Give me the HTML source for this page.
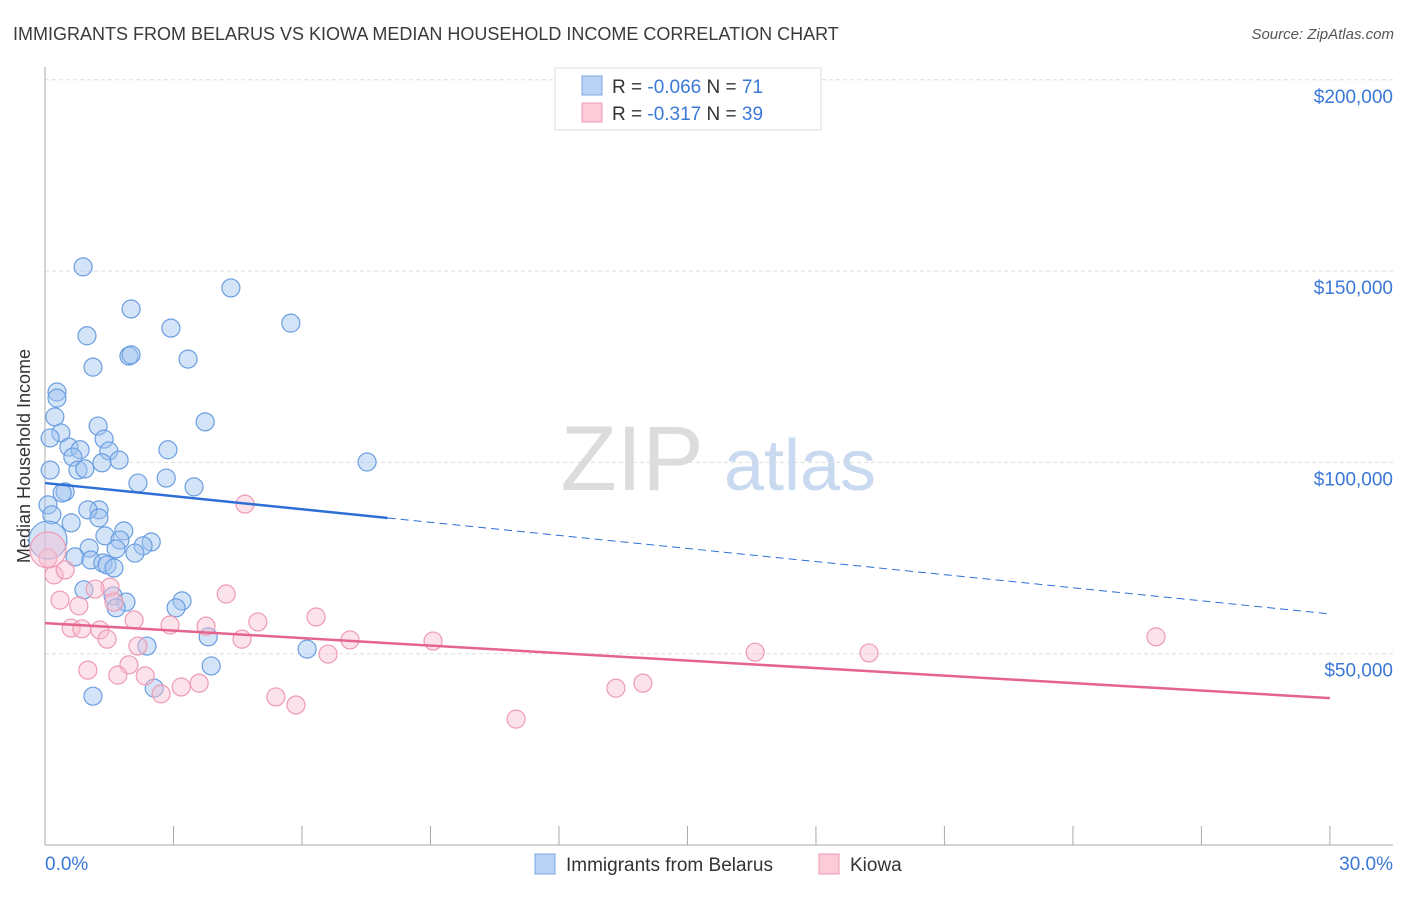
<!DOCTYPE html>
<html><head><meta charset="utf-8">
<style>
body{margin:0;background:#fff;font-family:"Liberation Sans",sans-serif;}
svg text{font-family:"Liberation Sans",sans-serif;}
</style></head>
<body>
<svg id="chart" width="1406" height="892" xmlns="http://www.w3.org/2000/svg">
<text x="13" y="40" font-size="18" fill="#3a3a3a">IMMIGRANTS FROM BELARUS VS KIOWA MEDIAN HOUSEHOLD INCOME CORRELATION CHART</text>
<text x="1394" y="39" font-size="15" fill="#555" font-style="italic" text-anchor="end">Source: ZipAtlas.com</text>
<text x="30" y="456" font-size="18" fill="#333" text-anchor="middle" transform="rotate(-90 30 456)">Median Household Income</text>
<g>
<text x="632" y="490" font-size="92" fill="#dcdcdc" font-family="Liberation Serif" text-anchor="middle" font-family="Liberation Serif">ZIP</text>
<text x="800" y="490" font-size="72" fill="#c9daf0" text-anchor="middle">atlas</text>
</g>
<g id="grid"></g>
<g id="axes"></g>
<g id="marks"></g>
<g>
<rect x="555" y="68" width="266" height="62" fill="#fff" stroke="#ddd"/>
<rect x="582" y="76" width="20" height="19" fill="#b8d3f5" stroke="#7aa6e0"/>
<text x="612" y="93" font-size="19" fill="#333">R = <tspan fill="#3a78d8">-0.066</tspan>   N =  <tspan fill="#3a78d8">71</tspan></text>
<rect x="582" y="103" width="20" height="19" fill="#fbcbd8" stroke="#ec9ab2"/>
<text x="612" y="120" font-size="19" fill="#333">R =  <tspan fill="#3a78d8">-0.317</tspan>   N = <tspan fill="#3a78d8">39</tspan></text>
</g>
<g>
<rect x="535" y="854" width="20" height="20" fill="#b8d3f5" stroke="#7aa6e0"/>
<text x="566" y="871" font-size="19" fill="#333">Immigrants from Belarus</text>
<rect x="819" y="854" width="20" height="20" fill="#fbcbd8" stroke="#ec9ab2"/>
<text x="850" y="871" font-size="19" fill="#333">Kiowa</text>
</g>
</svg>
<script>
const blueX=[0.89,4.34,5.74,0.98,2.01,2.94,1.12,1.96,2.01,3.34,0.28,0.28,0.23,3.74,1.24,0.37,0.12,1.38,2.87,0.56,0.82,1.49,0.65,1.73,7.52,1.33,0.77,0.93,0.12,2.83,2.17,3.48,0.47,0.40,0.07,1.26,1.00,0.16,1.26,0.61,1.84,1.40,2.48,1.75,1.03,2.29,1.66,2.10,0.70,1.07,1.35,1.45,1.61,0.07,0.91,1.59,1.89,1.66,3.20,3.06,3.81,2.38,6.12,3.88,2.55,1.12];
const blueY=[151.1,145.6,136.4,133.1,140.1,135.1,124.9,127.8,128.1,127.0,118.4,116.8,111.9,110.6,109.5,107.7,106.4,106.1,103.3,104.0,103.3,103.0,101.4,100.6,100.1,99.9,98.0,98.3,98.0,95.9,94.6,93.6,92.3,92.0,88.9,87.6,87.6,86.3,85.5,84.2,82.1,80.8,79.2,79.7,77.6,78.2,77.4,76.3,75.3,74.5,73.7,73.2,72.4,79.7,66.7,65.1,63.5,62.0,63.8,62.0,54.4,52.0,51.2,46.8,41.0,38.9];
const pinkX=[4.67,0.07,0.21,0.47,1.52,1.17,4.23,0.35,0.79,1.61,6.33,2.08,4.97,0.61,0.86,1.28,2.92,3.76,1.45,2.17,7.12,9.06,4.60,25.94,16.58,19.24,6.61,1.96,1.00,1.70,2.34,3.18,3.60,2.71,5.39,5.86,13.33,13.96,11.00,0.07];
const pinkY=[89.1,75.0,70.6,71.9,67.4,66.9,65.6,64.0,62.5,63.5,59.6,58.8,58.3,56.7,56.5,56.2,57.5,57.2,53.8,52.0,53.6,53.3,53.8,54.4,50.4,50.2,49.9,47.1,45.7,44.4,44.2,41.3,42.3,39.5,38.7,36.6,41.0,42.3,32.9,77.1];
const yTicks=[50,100,150,200];
const yTickLabels=["$50,000","$100,000","$150,000","$200,000"];
const xTicks=[0,3,6,9,12,15,18,21,24,27,30];
const blueTrend=[94.6,60.4]; const blueSolidEnd=8.0;
const pinkTrend=[58.0,38.4];

const NS="http://www.w3.org/2000/svg";
const xs=v=>45+v*42.83;
const ys=v=>845-v*3.826;
function mk(parent,tag,attrs){const e=document.createElementNS(NS,tag);for(const k in attrs)e.setAttribute(k,attrs[k]);document.getElementById(parent).appendChild(e);return e;}

yTicks.forEach((t,i)=>{
  const l=mk('grid','line',{x1:45,x2:1393,y1:ys(t),y2:ys(t),stroke:'#ddd','stroke-dasharray':'4,3'});
  
  
  const tx=mk('grid','text',{x:1393,y:ys(t)+23,'font-size':19,fill:'#3a78d8','text-anchor':'end'});
  tx.textContent=yTickLabels[i];
  
  
});
const ya=mk('axes','line',{x1:45,x2:45,y1:67,y2:845,stroke:'#aaa'});


const xa=mk('axes','line',{x1:45,x2:1393,y1:845,y2:845,stroke:'#aaa'});


xTicks.forEach(t=>{
  const l=mk('axes','line',{x1:xs(t),x2:xs(t),y1:826,y2:845,stroke:'#aaa'});
  
  
});
const xl0=mk('axes','text',{x:45,y:870,'font-size':19,fill:'#3a78d8'});xl0.textContent='0.0%';


const xl1=mk('axes','text',{x:1393,y:870,'font-size':19,fill:'#3a78d8','text-anchor':'end'});xl1.textContent='30.0%';



blueX.forEach((x,i)=>{
  const big=(i===53);
  const c=mk('marks','circle',{cx:xs(x),cy:ys(blueY[i]),r:big?19:9,fill:'rgba(160,196,240,0.45)',stroke:'#6a9ee0','stroke-width':1.2});
  
  
});
pinkX.forEach((x,i)=>{
  const big=(i===39);
  const c=mk('marks','circle',{cx:xs(x),cy:ys(pinkY[i]),r:big?18:9,fill:'rgba(248,190,208,0.45)',stroke:'#ee9ab4','stroke-width':1.2});
  
  
});
const bAt=x=>blueTrend[0]+(blueTrend[1]-blueTrend[0])*x/30;
const b1=mk('marks','line',{x1:xs(0),y1:ys(bAt(0)),x2:xs(blueSolidEnd),y2:ys(bAt(blueSolidEnd)),stroke:'#2e6fd6','stroke-width':2.5});


const b2=mk('marks','line',{x1:xs(blueSolidEnd),y1:ys(bAt(blueSolidEnd)),x2:xs(30),y2:ys(bAt(30)),stroke:'#2e6fd6','stroke-width':1,'stroke-dasharray':'8,5'});


const p1=mk('marks','line',{x1:xs(0),y1:ys(pinkTrend[0]),x2:xs(30),y2:ys(pinkTrend[1]),stroke:'#e5648d','stroke-width':2.5});


</script>
</body></html>
